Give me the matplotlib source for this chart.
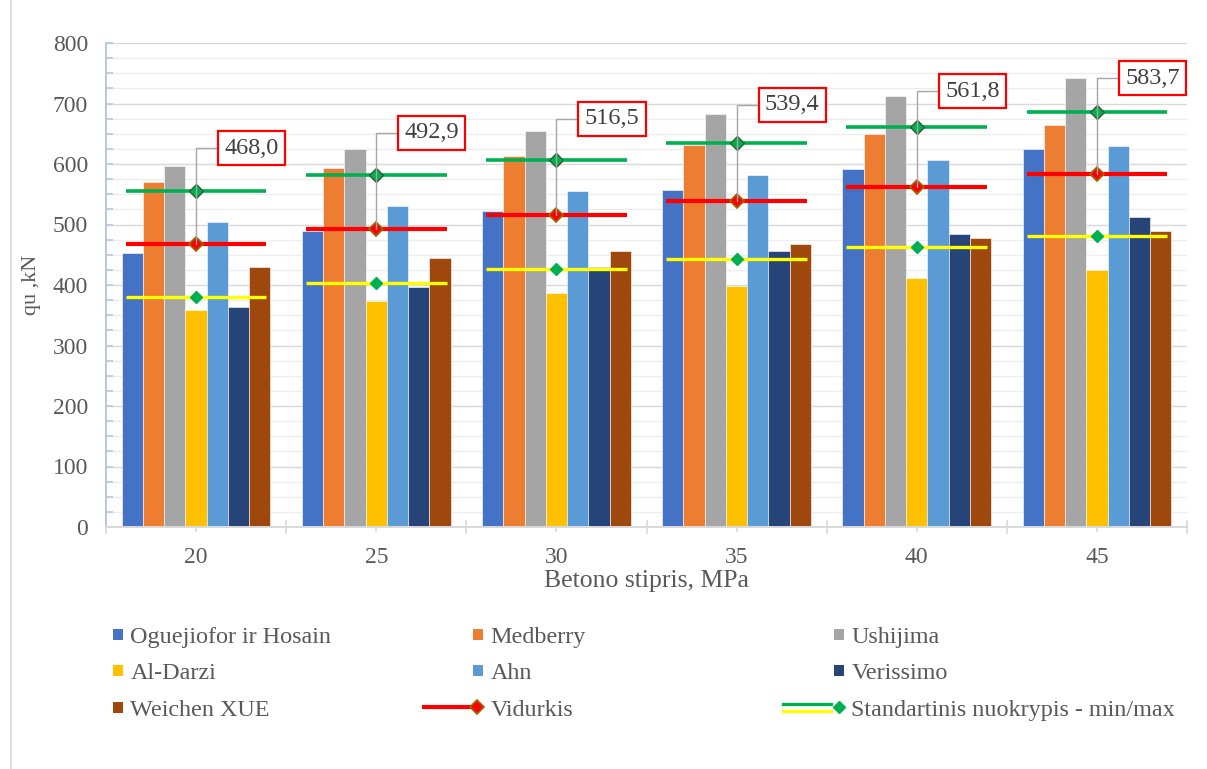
import numpy as np
import matplotlib.pyplot as plt
from matplotlib.lines import Line2D
from matplotlib.patches import Rectangle
from matplotlib.legend_handler import HandlerBase

plt.rcParams['font.family'] = ['Liberation Serif', 'DejaVu Serif']

# Duomenys (nuskaityti nuo paveikslo)
categories = ['20', '25', '30', '35', '40', '45']
series_names = ['Oguejiofor ir Hosain', 'Medberry', 'Ushijima', 'Al-Darzi',
                'Ahn', 'Verissimo', 'Weichen XUE']
oguejiofor = [453, 489, 523, 557, 591, 624]
medberry = [570, 593, 613, 631, 649, 665]
ushijima = [596, 625, 654, 683, 713, 742]
al_darzi = [358, 373, 387, 399, 412, 424]
ahn = [504, 531, 556, 581, 606, 630]
verissimo = [364, 396, 430, 456, 485, 512]
weichen = [430, 445, 456, 467, 478, 489]
vidurkis = [468.0, 492.9, 516.5, 539.4, 561.8, 583.7]
std_dev = [87.5, 89, 90.5, 96, 99.5, 103]

series = [oguejiofor, medberry, ushijima, al_darzi, ahn, verissimo, weichen]
colors = ['#4472C4', '#ED7D31', '#A5A5A5', '#FFC000', '#5B9BD5', '#264478', '#9E480E']

RED = '#FF0000'
GREEN = '#00B050'
YELLOW = '#FFFF00'
TXT = '#595959'
PX = 72 / 100  # vienas pikselis taskais

fig = plt.figure(figsize=(12.07, 7.69), dpi=100)
ax = fig.add_axes([106 / 1207, 1 - 527 / 769, (1187 - 106) / 1207, (527 - 43) / 769])

x = np.arange(len(categories))
w = 0.118
for i, (vals, col) in enumerate(zip(series, colors)):
    ax.bar(x + (i - 3) * w, vals, w, color=col, edgecolor='white', linewidth=0.4, zorder=2)

mean = np.array(vidurkis)
upper = mean + np.array(std_dev)
lower = mean - np.array(std_dev)
half = 0.39

# vidurkis ir standartinis nuokrypis
ax.hlines(upper, x - half, x + half, color=GREEN, lw=2.6, zorder=3)
ax.hlines(lower, x - half, x + half, color=YELLOW, lw=2.4, zorder=3)
ax.hlines(mean, x - half, x + half, color=RED, lw=3, zorder=3)
ax.plot(x, upper, 'D', ms=7, mfc=GREEN, mec='#2E5E2E', mew=1, ls='none', zorder=4)
ax.plot(x, lower, 'D', ms=6, mfc=GREEN, mec=GREEN, mew=1, ls='none', zorder=4)
ax.plot(x, mean, 'D', ms=7, mfc=RED, mec='#9C6500', mew=1.2, ls='none', zorder=4)

# reiksmiu etiketes
for xi, m in zip(x, mean):
    ax.annotate(f'{m:.1f}'.replace('.', ','), xy=(xi, m), xytext=(40, 69),
                textcoords='offset points', ha='center', va='center',
                fontsize=17.5, color='#404040', zorder=6,
                bbox=dict(boxstyle='square,pad=0.26', fc='white', ec=RED, lw=1.6),
                arrowprops=dict(arrowstyle='-', color='#A6A6A6', lw=1,
                                connectionstyle='angle,angleA=0,angleB=90,rad=0',
                                shrinkA=0, shrinkB=0))

# asys
ax.set_xlim(-0.5, 5.5)
ax.set_ylim(0, 800)
ax.set_xticks(x)
ax.set_xticklabels(categories)
ax.set_xticks(np.arange(-0.5, 6), minor=True)
ax.set_yticks(np.arange(0, 801, 100))
ax.set_yticks(np.arange(0, 801, 25), minor=True)

ax.tick_params(axis='y', which='both', direction='in', length=5, width=1.2,
               color='#B4C7E7', labelsize=17, labelcolor=TXT, pad=13)
ax.tick_params(axis='x', which='major', direction='inout', length=7, width=1.2,
               color='#D9D9D9', labelsize=17, labelcolor=TXT, pad=11)
ax.tick_params(axis='x', which='minor', direction='inout', length=10, width=1.2,
               color='#D9D9D9')

ax.yaxis.grid(True, which='major', color='#D9D9D9', lw=1)
ax.yaxis.grid(True, which='minor', color='#EDEDED', lw=1)
ax.set_axisbelow(True)

for s in ['top', 'right']:
    ax.spines[s].set_visible(False)
ax.spines['left'].set_color('#B4C7E7')
ax.spines['left'].set_linewidth(1.4)
ax.spines['bottom'].set_color('#D9D9D9')
ax.spines['bottom'].set_linewidth(1.4)

ax.set_xlabel('Betono stipris, MPa', fontsize=18.5, color=TXT, labelpad=1)
ax.set_ylabel('qu ,kN', fontsize=16, color=TXT, labelpad=8)


# legendos zymekliai
class SquareHandler(HandlerBase):
    def create_artists(self, legend, orig_handle, xdescent, ydescent, width, height, fontsize, trans):
        x0, yc = -xdescent, -ydescent + height / 2
        r = Rectangle((x0 + width - 11 * PX, yc - 5.5 * PX), 10 * PX, 11 * PX,
                      fc=orig_handle.get_facecolor(), ec='none', transform=trans)
        return [r]


class MeanHandler(HandlerBase):
    def create_artists(self, legend, orig_handle, xdescent, ydescent, width, height, fontsize, trans):
        x0, yc = -xdescent, -ydescent + height / 2
        ln = Line2D([x0 + 2 * PX, x0 + width - 9 * PX], [yc, yc], color=RED, lw=3, transform=trans)
        mk = Line2D([x0 + width - 7 * PX], [yc], marker='D', ms=7, mfc=RED, mec='#9C6500',
                    mew=1.2, ls='none', transform=trans)
        return [ln, mk]


class StdHandler(HandlerBase):
    def create_artists(self, legend, orig_handle, xdescent, ydescent, width, height, fontsize, trans):
        x0, yc = -xdescent, -ydescent + height / 2
        g = Line2D([x0, x0 + width - 14 * PX], [yc + 3.4 * PX] * 2, color=GREEN, lw=2.4, transform=trans)
        yl = Line2D([x0, x0 + width - 14 * PX], [yc - 3.4 * PX] * 2, color=YELLOW, lw=2.4, transform=trans)
        mk = Line2D([x0 + width - 6 * PX], [yc], marker='D', ms=6.5, mfc=GREEN, mec=GREEN,
                    ls='none', transform=trans)
        return [g, yl, mk]


bar_handles = [Rectangle((0, 0), 1, 1, fc=c) for c in colors]
mean_handle = Line2D([], [], color=RED)
std_handle = Line2D([], [], color=GREEN)

columns = [
    ([bar_handles[0], bar_handles[3], bar_handles[6]],
     [series_names[0], series_names[3], series_names[6]], 62),
    ([bar_handles[1], bar_handles[4], mean_handle],
     [series_names[1], series_names[4], 'Vidurkis'], 422),
    ([bar_handles[2], bar_handles[5], std_handle],
     [series_names[2], series_names[5], 'Standartinis nuokrypis - min/max'], 783),
]
hmap = {Rectangle: SquareHandler(), mean_handle: MeanHandler(), std_handle: StdHandler()}
for handles, labels, left_px in columns:
    fig.legend(handles, labels, loc='upper left', bbox_to_anchor=(left_px / 1207, 1 - 626 / 769),
               frameon=False, fontsize=17.4, labelcolor=TXT, borderpad=0, borderaxespad=0,
               handlelength=62 / 24, handletextpad=6 / 24, labelspacing=0.6,
               handler_map=hmap)

# diagramos srities kairysis krastas
fig.add_artist(Line2D([11 / 1207] * 2, [0, 1], transform=fig.transFigure, color='#D9D9D9', lw=1.2))

fig.savefig('out.png', dpi=100)
